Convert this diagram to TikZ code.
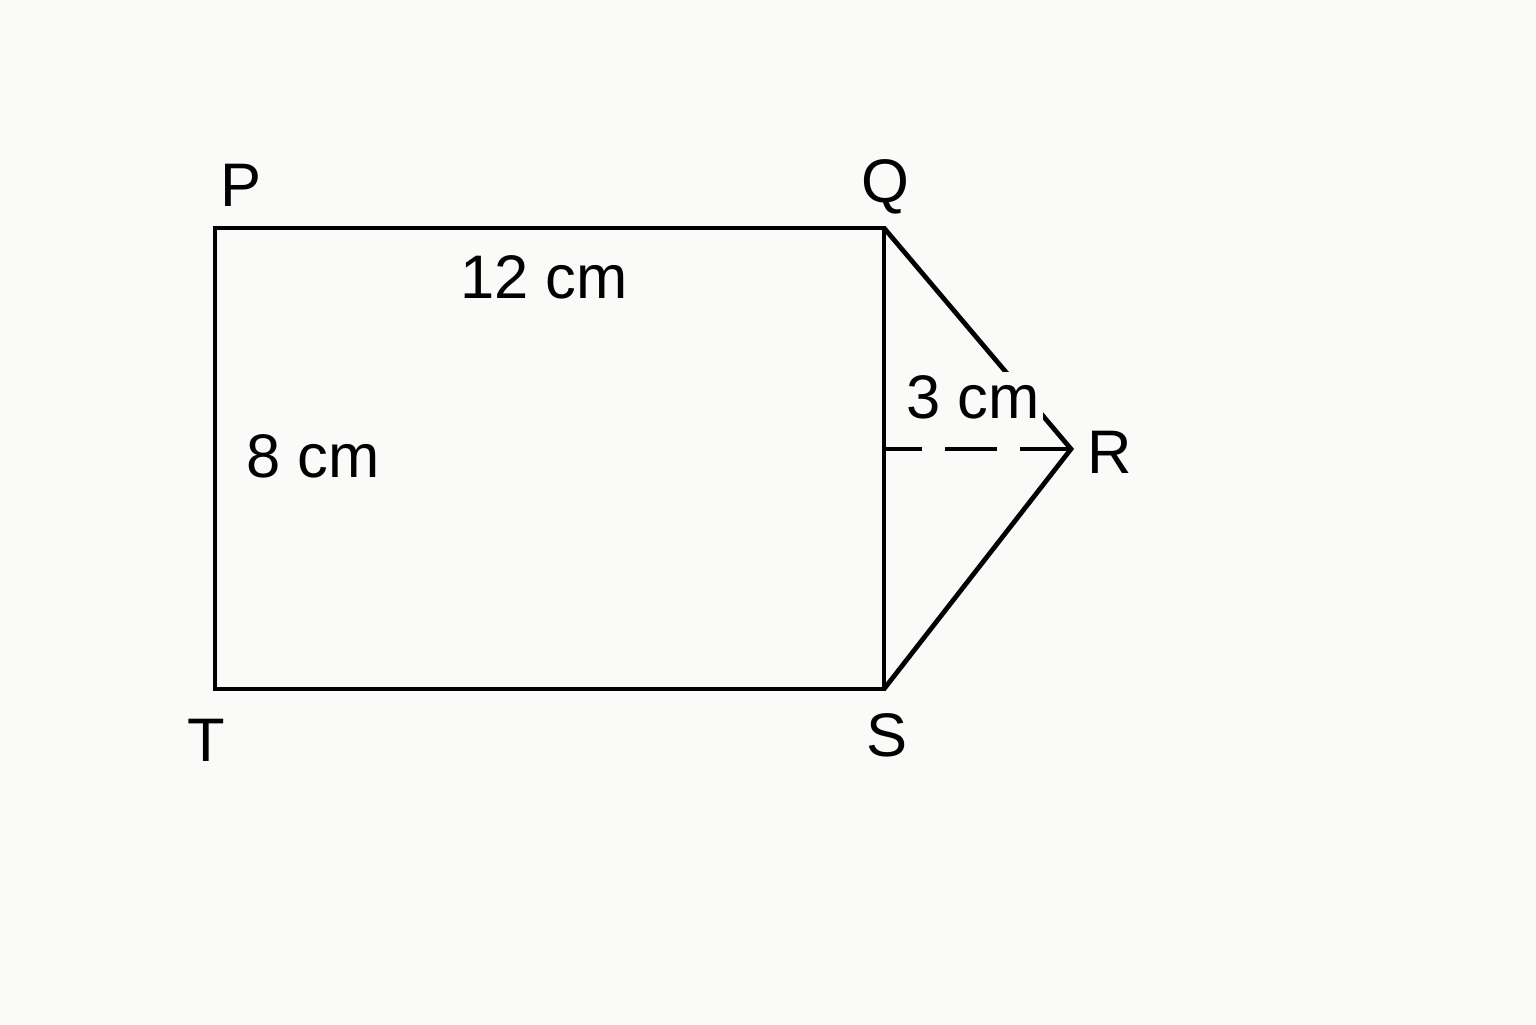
\documentclass[tikz,border=0pt]{standalone}
\usepackage{fontspec}
\setmainfont{Liberation Sans}
\usepackage{xcolor}
\definecolor{paper}{RGB}{250,251,248}

\begin{document}
\begin{tikzpicture}[x=1cm,y=1cm,
    edge/.style={line width=1.35pt,line join=miter},
    lbl/.style={font=\fontsize{17.5}{20}\selectfont,inner sep=1pt}]
    \fill[paper] (0,0) rectangle (15.36,10.24);
    \useasboundingbox (0,0) rectangle (15.36,10.24);
    % corners
    \coordinate (P) at (2.15,7.96);
    \coordinate (Q) at (8.84,7.96);
    \coordinate (S) at (8.84,3.35);
    \coordinate (T) at (2.15,3.35);
    \coordinate (R) at (10.71,5.75);
    \coordinate (H) at (8.84,5.75);
    \draw[edge] (P)--(Q)--(S)--(T)--cycle;
    \draw[edge] (Q)--(R)--(S);
    \draw[edge,dash pattern=on 0.52cm off 0.23cm,dash phase=0.14cm] (H)--(R);
    % labels
    \node[lbl] (lP) at (2.41,8.39) {P};
    \node[lbl] (lQ) at (8.85,8.37) {Q};
    \node[lbl] (lR) at (11.10,5.72) {R};
    \node[lbl] (lS) at (8.87,2.89) {S};
    \node[lbl] (lT) at (2.06,2.84) {T};
    \node[lbl] (top) at (5.44,7.47) {12 cm};
    \node[lbl] (side) at (3.13,5.68) {8 cm};
    \node[lbl,fill=paper] (height) at (9.73,6.27) {3 cm};
\end{tikzpicture}
\end{document}
